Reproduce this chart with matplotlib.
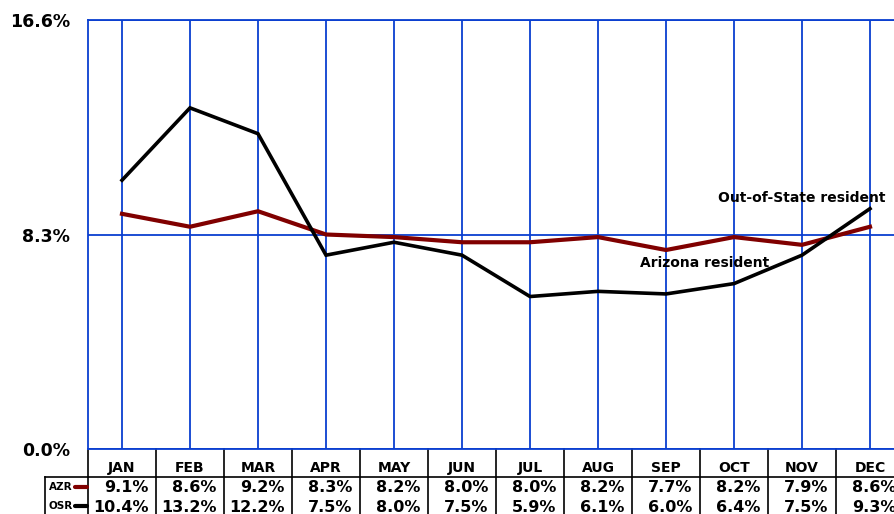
import numpy as np
import matplotlib
matplotlib.use('Agg')
import matplotlib.pyplot as plt
import matplotlib.transforms as mtransforms

#--------------------------------------------
# data
months = ['JAN', 'FEB', 'MAR', 'APR', 'MAY', 'JUN',
          'JUL', 'AUG', 'SEP', 'OCT', 'NOV', 'DEC']
azr = [9.1, 8.6, 9.2, 8.3, 8.2, 8.0, 8.0, 8.2, 7.7, 8.2, 7.9, 8.6]
osr = [10.4, 13.2, 12.2, 7.5, 8.0, 7.5, 5.9, 6.1, 6.0, 6.4, 7.5, 9.3]
yticks = [0.0, 8.3, 16.6]
#--------------------------------------------
azrColor = '#800000'
osrColor = 'black'
gridColor = '#0a3fd0'
W, H = 895, 514
plt.rcParams['font.family'] = 'DejaVu Sans'
plt.rcParams['font.weight'] = 'bold'

fig = plt.figure(figsize=(W/100, H/100), dpi=100)
left, top, bot = 88, 20, 449
ax = fig.add_axes([left/W, (H-bot)/H, (W-left)/W, (bot-top)/H])

x = np.arange(len(months))
ax.plot(x, azr, color=azrColor, lw=3.0, solid_joinstyle='miter', zorder=3)
ax.plot(x, osr, color=osrColor, lw=2.6, solid_joinstyle='miter', zorder=4)

ax.set_xlim(-0.5, (W - 122) / 68.0)
ax.set_ylim(0, 16.6)
ax.set_yticks(yticks)
ax.set_yticklabels(['%.1f%%' % v for v in yticks], fontsize=12.5, fontweight='bold')
ax.tick_params(axis='y', length=0, pad=13)
ax.set_xticks(x)
ax.set_xticklabels([])
ax.tick_params(axis='x', length=0)
ax.grid(True, color=gridColor, lw=1.3)
for s in ax.spines.values():
    s.set_color(gridColor)
    s.set_linewidth(1.3)
ax.spines['right'].set_visible(False)

ax.text(8.77, 9.55, 'Out-of-State resident', fontsize=10, fontweight='bold')
ax.text(7.62, 7.05, 'Arizona resident', fontsize=10, fontweight='bold')

# data table below the plot
tr = mtransforms.blended_transform_factory(ax.transData, ax.transAxes)
def ypx(p):
    return (bot - p) / (bot - top)

yb = ypx(520)
for k in range(len(months) + 1):
    ax.plot([k - 0.5, k - 0.5], [0, yb], color='black', lw=1.2,
            transform=tr, clip_on=False)
ax.plot([-0.5, 12.5], [ypx(477), ypx(477)], color='black', lw=1.2,
        transform=tr, clip_on=False)

# legend cell
ftr = fig.transFigure
lx0 = 45 / W
fig.add_artist(plt.Line2D([lx0, left/W], [(H-477)/H, (H-477)/H], color='black', lw=1.2, transform=ftr))
fig.add_artist(plt.Line2D([lx0, lx0], [(H-477)/H, 0], color='black', lw=1.2, transform=ftr))
for name, c, yp in [('AZR', azrColor, 487), ('OSR', osrColor, 506)]:
    fig.text(49/W, (H-yp)/H, name, fontsize=7.5, fontweight='bold', va='center', ha='left')
    fig.add_artist(plt.Line2D([75/W, 87/W], [(H-yp)/H, (H-yp)/H], color=c, lw=3,
                              transform=ftr, solid_capstyle='round'))

for i, m in enumerate(months):
    ax.text(i, ypx(468), m, ha='center', va='center', fontsize=10,
            fontweight='bold', transform=tr, clip_on=False)
    ax.text(i + 0.39, ypx(488), '%.1f%%' % azr[i], ha='right', va='center',
            fontsize=11.5, fontweight='bold', transform=tr, clip_on=False)
    ax.text(i + 0.39, ypx(508), '%.1f%%' % osr[i], ha='right', va='center',
            fontsize=11.5, fontweight='bold', transform=tr, clip_on=False)

plt.savefig('out.png', dpi=100)
